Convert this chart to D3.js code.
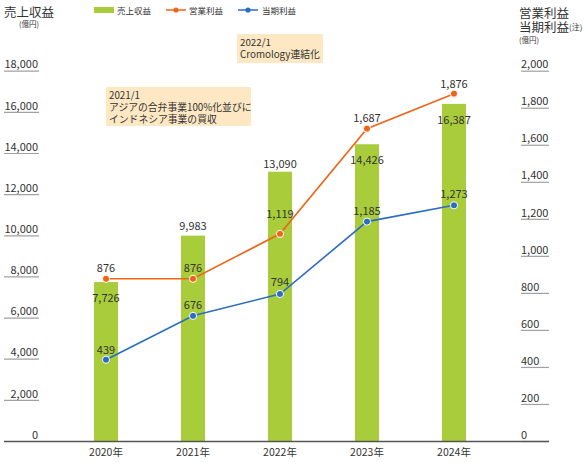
<!DOCTYPE html>
<html><head><meta charset="utf-8">
<script src="https://cdn.jsdelivr.net/npm/d3@7"></script>
<style>
body{margin:0;background:#fff;}
text{font-family:"Noto Sans CJK JP","Noto Sans",sans-serif;fill:#333;font-weight:400;}
</style></head>
<body><svg id="c" width="588" height="462"></svg>
<script>
const years = ["2020年","2021年","2022年","2023年","2024年"];
const revenue = [7726, 9983, 13090, 14426, 16387];
const opProfit = [876, 876, 1119, 1687, 1876];
const netProfit = [439, 676, 794, 1185, 1273];
const leftTicks = [0,2000,4000,6000,8000,10000,12000,14000,16000,18000];
const rightTicks = [0,200,400,600,800,1000,1200,1400,1600,1800,2000];
const legendLabels = ["売上収益","営業利益","当期利益"];
const notes = [
  ["2022/1","Cromology連結化"],
  ["2021/1","アジアの合弁事業100%化並びに","インドネシア事業の買収"]
];
// label placement (layout only)
const revLabelOff = [16,-9,-8,16,16];
const opLabelOff = [-11,-11,-20,-11,-10];
const netLabelOff = [-10,-11,-12,-10,-11];

const C = {bar:"#a9cd3a", op:"#ee6518", net:"#2b6cc4", note:"#fde8c3"};
const svg = d3.select("#c");
const fmt = d3.format(",");

const x = d3.scalePoint().domain(years).range([62.5,497.5]).padding(0.5);
const yL = d3.scaleLinear().domain([0,18000]).range([441,70.7]);
const yR = d3.scaleLinear().domain([0,2000]).range([441,70.7]);
const bw = 24;

// axes
const gL = svg.append("g").attr("transform","translate(39,0)")
  .call(d3.axisLeft(yL).tickValues(leftTicks).tickFormat(fmt).tickSizeInner(35).tickSizeOuter(0));
gL.select(".domain").remove();
gL.selectAll(".tick line").attr("stroke","#a0a0a0").attr("stroke-width",1.2);
gL.selectAll(".tick text").attr("x",-1).attr("dy","-2.8").attr("text-anchor","end")
  .style("font-size","11px").attr("fill","#444");

const gR = svg.append("g").attr("transform","translate(521,0)")
  .call(d3.axisRight(yR).tickValues(rightTicks).tickFormat(fmt).tickSizeInner(28).tickSizeOuter(0));
gR.select(".domain").remove();
gR.selectAll(".tick line").attr("stroke","#a0a0a0").attr("stroke-width",1.2);
gR.selectAll(".tick text").attr("x",0).attr("dy","-2.8").attr("text-anchor","start")
  .style("font-size","11px").attr("fill","#444");

// x labels
svg.append("g").selectAll("text").data(years).join("text")
  .attr("x",d=>x(d)).attr("y",456).attr("text-anchor","middle")
  .style("font-size","10.5px").attr("fill","#444").text(d=>d);

// bars
svg.append("g").selectAll("rect").data(revenue).join("rect")
  .attr("x",(d,i)=>x(years[i])-bw/2).attr("width",bw)
  .attr("y",d=>yL(d)).attr("height",d=>yL(0)-yL(d)).attr("fill",C.bar);

// baseline
svg.append("line").attr("x1",4).attr("x2",549).attr("y1",441.5).attr("y2",441.5)
  .attr("stroke","#555").attr("stroke-width",1.6);

// annotations
const boxes = [{x:237,y:34,w:86,h:29},{x:106,y:87,w:145,h:39}];
notes.forEach((lines,k)=>{
  const b = boxes[k];
  svg.append("rect").attr("x",b.x).attr("y",b.y).attr("width",b.w).attr("height",b.h).attr("fill",C.note);
  const t = svg.append("text").attr("x",b.x+3).attr("y",b.y+12).style("font-size","9.8px").attr("fill","#333");
  lines.forEach((l,j)=>t.append("tspan").attr("x",b.x+3).attr("dy",j?12:0).text(l));
});

// lines
function series(vals,color,offs){
  const pts = vals.map((v,i)=>[x(years[i]),yR(v)]);
  svg.append("path").attr("d",d3.line()(pts)).attr("fill","none").attr("stroke",color).attr("stroke-width",1.6);
  svg.append("g").selectAll("circle").data(vals).join("circle")
    .attr("cx",(d,i)=>x(years[i])).attr("cy",d=>yR(d)).attr("r",3.6)
    .attr("fill",color).attr("stroke","#fff").attr("stroke-width",1);
  svg.append("g").selectAll("text").data(vals).join("text")
    .attr("x",(d,i)=>x(years[i])).attr("y",(d,i)=>yR(d)+offs[i]).attr("dy","0.35em")
    .attr("text-anchor","middle").style("font-size","11px").attr("fill","#333").text(d=>fmt(d));
}
// bar labels
svg.append("g").selectAll("text").data(revenue).join("text")
  .attr("x",(d,i)=>x(years[i])).attr("y",(d,i)=>yL(d)+revLabelOff[i]).attr("dy","0.35em")
  .attr("text-anchor","middle").style("font-size","11px").attr("fill","#333").text(d=>fmt(d));
series(opProfit,C.op,opLabelOff);
series(netProfit,C.net,netLabelOff);

// titles
svg.append("text").attr("x",4).attr("y",16.5).style("font-size","12.5px").attr("fill","#333").text("売上収益");
svg.append("text").attr("x",19).attr("y",27).style("font-size","7.5px").attr("fill","#444").text("(億円)");
svg.append("text").attr("x",519).attr("y",18).style("font-size","12.5px").attr("fill","#333").text("営業利益");
const t2 = svg.append("text").attr("x",519).attr("y",32).style("font-size","12.5px").attr("fill","#333");
t2.append("tspan").text("当期利益");
t2.append("tspan").style("font-size","8px").attr("dy",-2).text("(注)");
svg.append("text").attr("x",519).attr("y",43).style("font-size","7.5px").attr("fill","#444").text("(億円)");

// legend
const lg = svg.append("g");
lg.append("rect").attr("x",94).attr("y",7).attr("width",20).attr("height",6).attr("fill",C.bar);
[[166,C.op],[238,C.net]].forEach(([lx,c])=>{
  lg.append("line").attr("x1",lx).attr("x2",lx+20).attr("y1",10).attr("y2",10).attr("stroke",c).attr("stroke-width",1.5);
  lg.append("circle").attr("cx",lx+10).attr("cy",10).attr("r",2.6).attr("fill",c);
});
[117,189,262].forEach((lx,i)=>lg.append("text").attr("x",lx).attr("y",13.5).style("font-size","8.5px").attr("fill","#444").text(legendLabels[i]));
</script></body></html>
